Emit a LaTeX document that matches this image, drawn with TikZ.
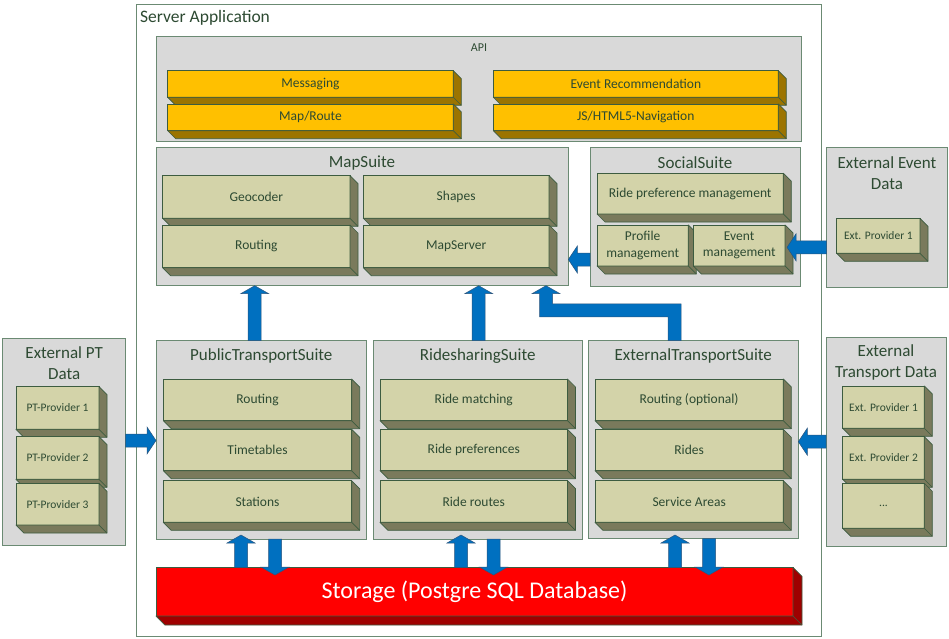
\documentclass[tikz,border=0pt]{standalone}
\usepackage{fontspec}
\setmainfont{Carlito}
\usetikzlibrary{calc}

\definecolor{panelfill}{HTML}{D9D9D9}
\definecolor{panelline}{HTML}{6B8A73}
\definecolor{olivefront}{HTML}{D3D3A9}
\definecolor{oliveside}{HTML}{7A7A5C}
\definecolor{edgegreen}{HTML}{3D5C40}
\definecolor{goldfront}{HTML}{FFC000}
\definecolor{goldside}{HTML}{9C7400}
\definecolor{redfront}{HTML}{FF0000}
\definecolor{redside}{HTML}{9E0000}
\definecolor{flowblue}{HTML}{0070C0}
\definecolor{flowedge}{HTML}{2B557D}
\definecolor{ink}{HTML}{2D4A32}

\tikzset{
  panel/.style={draw=panelline, fill=panelfill, line width=0.9pt, inner sep=0pt, outer sep=0pt, rectangle},
  outerframe/.style={panel, fill=white},
  title/.style={font=\fontsize{17}{20.5}\selectfont, text=ink, inner sep=0pt, align=center},
  oliveface/.style={draw=edgegreen, fill=olivefront, line width=0.7pt, inner sep=0pt, outer sep=0pt,
    font=\fontsize{13.5}{16.3}\selectfont, text=ink, align=center},
  oliveshade/.style={draw=edgegreen, fill=oliveside, line width=0.7pt, line join=round},
  goldface/.style={oliveface, fill=goldfront},
  goldshade/.style={oliveshade, fill=goldside},
  redface/.style={oliveface, fill=redfront, text=white, font=\fontsize{24}{28}\selectfont},
  redshade/.style={oliveshade, fill=redside},
  flow/.style={fill=flowblue, draw=flowedge, line width=0.5pt, line join=miter},
  smalltext/.style={font=\fontsize{11.5}{14}\selectfont},
}

% 3-D slab: front face as a named node, plus right and bottom faces
% #1 extra node options, #2 kind, #3 name, #4 x0, #5 y0, #6 x1, #7 y1, #8 depth, #9 text
\newcommand\slab[9][]{%
  \node[#2face, minimum width={#6-#4}, minimum height={#7-#5}, #1] (#3) at ({(#4+#6)/2},{(#5+#7)/2}) {#9};
  \filldraw[#2shade] (#3.north east) -- ++(#8,#8) -- ($(#3.south east)+(#8,#8)$)
     -- ($(#3.south west)+(#8,#8)$) -- (#3.south west) -- (#3.south east) -- cycle;
  \draw[#2shade] (#3.south east) -- ++(#8,#8);
}
% grey container: #1 style, #2 name, #3 x0, #4 y0, #5 x1, #6 y1
\newcommand\container[6][panel]{%
  \node[#1, minimum width={#5-#3}, minimum height={#6-#4}] (#2) at ({(#3+#5)/2},{(#4+#6)/2}) {};
}
% block arrows between two named coordinates: tail, tip
\newcommand\flowup[2]{%
  \filldraw[flow] ($(#1)+(-6.5,0)$) -- ($(#2)+(-6.5,8)$) -- ($(#2)+(-14,8)$) -- (#2)
    -- ($(#2)+(14,8)$) -- ($(#2)+(6.5,8)$) -- ($(#1)+(6.5,0)$) -- cycle;}
\newcommand\flowdown[2]{%
  \filldraw[flow] ($(#1)+(-6.5,0)$) -- ($(#2)+(-6.5,-8)$) -- ($(#2)+(-14,-8)$) -- (#2)
    -- ($(#2)+(14,-8)$) -- ($(#2)+(6.5,-8)$) -- ($(#1)+(6.5,0)$) -- cycle;}
\newcommand\flowleft[2]{%
  \filldraw[flow] ($(#1)+(0,-6.5)$) -- ($(#2)+(9,-6.5)$) -- ($(#2)+(9,-13.5)$) -- (#2)
    -- ($(#2)+(9,13.5)$) -- ($(#2)+(9,6.5)$) -- ($(#1)+(0,6.5)$) -- cycle;}
\newcommand\flowright[2]{%
  \filldraw[flow] ($(#1)+(0,-6.5)$) -- ($(#2)+(-9,-6.5)$) -- ($(#2)+(-9,-13.5)$) -- (#2)
    -- ($(#2)+(-9,13.5)$) -- ($(#2)+(-9,6.5)$) -- ($(#1)+(0,6.5)$) -- cycle;}

\begin{document}
\begin{tikzpicture}[x=1pt,y=-1pt]
\useasboundingbox (0,0) rectangle (949,638);

% ---------- server frame ----------
\container[outerframe]{srv}{136.5}{4}{821}{636.5}
\node[title, font=\fontsize{17.5}{21}\selectfont, anchor=west] (srv-t) at (140,18) {Server Application};

% ---------- API ----------
\container{api}{156.5}{36.5}{801.5}{141.5}
\node[title, font=\fontsize{12}{14}\selectfont] (api-t) at (479,47.5) {API};
\slab{gold}{msg}{167.7}{70.7}{453.3}{97.3}{8}{Messaging}
\slab{gold}{mrt}{167.7}{104}{453.3}{130.7}{8}{Map/Route}
\slab{gold}{erc}{493.3}{70.7}{778.3}{97.3}{8}{Event Recommendation}
\slab{gold}{jsn}{493.3}{104}{778.3}{130.7}{8}{JS/HTML5-Navigation}

% ---------- MapSuite ----------
\container{ms}{156}{147.5}{568.3}{285.7}
\node[title] (ms-t) at (362,163) {MapSuite};
\slab{olive}{geo}{162.7}{175.7}{350}{218.3}{8}{Geocoder}
\slab{olive}{mroute}{162.7}{225}{350}{267.7}{8}{Routing}
\slab{olive}{shp}{363.3}{175.7}{549}{218.3}{8}{Shapes}
\slab{olive}{msrv}{363.3}{225}{549}{267.7}{8}{MapServer}

% ---------- SocialSuite ----------
\container{ss}{590}{147.5}{800}{286.7}
\node[title] (ss-t) at (695,162.7) {SocialSuite};
\slab{olive}{rpm}{597}{173.3}{783.3}{214}{8}{Ride preference management}
\slab{olive}{prm}{597}{225}{688.3}{266}{8}{Profile\\management}
\slab{olive}{evm}{693.3}{225}{785}{266}{8}{Event\\management}

% ---------- External Event Data ----------
\container{eed}{826.7}{147.5}{947}{287.7}
\node[title] (eed-t) at (887,173) {External Event\\Data};
\slab[smalltext]{olive}{eep}{836.7}{218.3}{920}{253.3}{8}{Ext. Provider 1}

% ---------- External PT Data ----------
\container{ept}{2.7}{338.3}{125.7}{545}
\node[title] (ept-t) at (64.2,363.3) {External PT\\Data};
\slab[smalltext]{olive}{pt1}{16}{386.7}{99}{429.3}{8}{PT-Provider 1}
\slab[smalltext]{olive}{pt2}{16}{436.7}{99}{479.3}{8}{PT-Provider 2}
\slab[smalltext]{olive}{pt3}{16}{483.3}{99}{525}{8}{PT-Provider 3}

% ---------- PublicTransportSuite ----------
\container{pts}{156}{340.7}{366.7}{539}
\node[title] (pts-t) at (261.3,355.7) {PublicTransportSuite};
\slab{olive}{ptr}{163.3}{379}{351.7}{420.7}{8}{Routing}
\slab{olive}{ptt}{163.3}{429.3}{351.7}{470.7}{8}{Timetables}
\slab{olive}{pts-s}{163.3}{480.7}{351.7}{522.3}{8}{Stations}

% ---------- RidesharingSuite ----------
\container{rss}{373}{340.7}{582.5}{539}
\node[title] (rss-t) at (477.7,355.7) {RidesharingSuite};
\slab{olive}{rm}{380}{379}{567.5}{420.7}{8}{Ride matching}
\slab{olive}{rp}{380}{429.3}{567.5}{470.7}{8}{Ride preferences}
\slab{olive}{rr}{380}{480.7}{567.5}{522.3}{8}{Ride routes}

% ---------- ExternalTransportSuite ----------
\container{ets}{588.3}{340.7}{798.3}{538.5}
\node[title] (ets-t) at (693.3,355.7) {ExternalTransportSuite};
\slab{olive}{etr}{595}{379}{783.3}{420.7}{8}{Routing (optional)}
\slab{olive}{etd-r}{595}{429.3}{783.3}{470.7}{8}{Rides}
\slab{olive}{eta}{595}{480.7}{783.3}{522.3}{8}{Service Areas}

% ---------- External Transport Data ----------
\container{etd}{826}{337.5}{946}{546.5}
\node[title] (etd-t) at (886,362.5) {External\\Transport Data};
\slab[smalltext]{olive}{ep1}{842.7}{386}{924.3}{428.3}{8}{Ext. Provider 1}
\slab[smalltext]{olive}{ep2}{842.7}{436.7}{924.3}{479.3}{8}{Ext. Provider 2}
\slab[smalltext]{olive}{ep3}{842.7}{483.3}{924.3}{528.3}{8}{...}

% ---------- Storage ----------
\slab{red}{stor}{156}{567.3}{793}{616}{9}{Storage (Postgre SQL Database)}

% ---------- data flows ----------
% suites feeding the MapSuite
\coordinate (f1a) at (254.7,0 |- pts.north);
\coordinate (f1b) at (254.7,0 |- ms.south);
\flowup{f1a}{f1b}
\coordinate (f2a) at (478.7,0 |- rss.north);
\coordinate (f2b) at (478.7,0 |- ms.south);
\flowup{f2a}{f2b}
% elbow from ExternalTransportSuite to MapSuite
\coordinate (e0) at (674.5,0 |- ets.north);
\coordinate (e1) at (674.5,310.3);
\coordinate (e2) at (546,310.3);
\coordinate (e3) at (546,0 |- ms.south);
\filldraw[flow] ($(e0)+(6.5,0)$) -- ($(e1)+(6.5,-6.5)$) -- ($(e2)+(6.5,-6.5)$) -- ($(e3)+(6.5,8)$)
  -- ($(e3)+(14,8)$) -- (e3) -- ($(e3)+(-14,8)$) -- ($(e3)+(-6.5,8)$)
  -- ($(e2)+(-6.5,6.5)$) -- ($(e1)+(-6.5,6.5)$) -- ($(e0)+(-6.5,0)$) -- cycle;

% SocialSuite to MapSuite
\coordinate (s1a) at (ss.west |- 0,259.5);
\coordinate (s1b) at (ms.east |- 0,259.5);
\flowleft{s1a}{s1b}
% external event data into SocialSuite
\coordinate (s2a) at (eed.west |- 0,247.3);
\coordinate (s2b) at (787,247.3);
\flowleft{s2a}{s2b}
% external transport data into ExternalTransportSuite
\coordinate (s3a) at (etd.west |- 0,441.7);
\coordinate (s3b) at (ets.east |- 0,441.7);
\flowleft{s3a}{s3b}
% external PT data into PublicTransportSuite
\coordinate (s4a) at (ept.east |- 0,440.5);
\coordinate (s4b) at (pts.west |- 0,440.5);
\flowright{s4a}{s4b}

% suites <-> storage
\coordinate (d1a) at (241,0 |- stor.north);
\coordinate (d1b) at (241,535);
\flowup{d1a}{d1b}
\coordinate (d2a) at (275,0 |- pts.south);
\coordinate (d2b) at (275,575);
\flowdown{d2a}{d2b}
\coordinate (d3a) at (461,0 |- stor.north);
\coordinate (d3b) at (461,535);
\flowup{d3a}{d3b}
\coordinate (d4a) at (493.5,0 |- rss.south);
\coordinate (d4b) at (493.5,575);
\flowdown{d4a}{d4b}
\coordinate (d5a) at (675,0 |- stor.north);
\coordinate (d5b) at (675,535);
\flowup{d5a}{d5b}
\coordinate (d6a) at (709,0 |- ets.south);
\coordinate (d6b) at (709,575);
\flowdown{d6a}{d6b}
\end{tikzpicture}
\end{document}
